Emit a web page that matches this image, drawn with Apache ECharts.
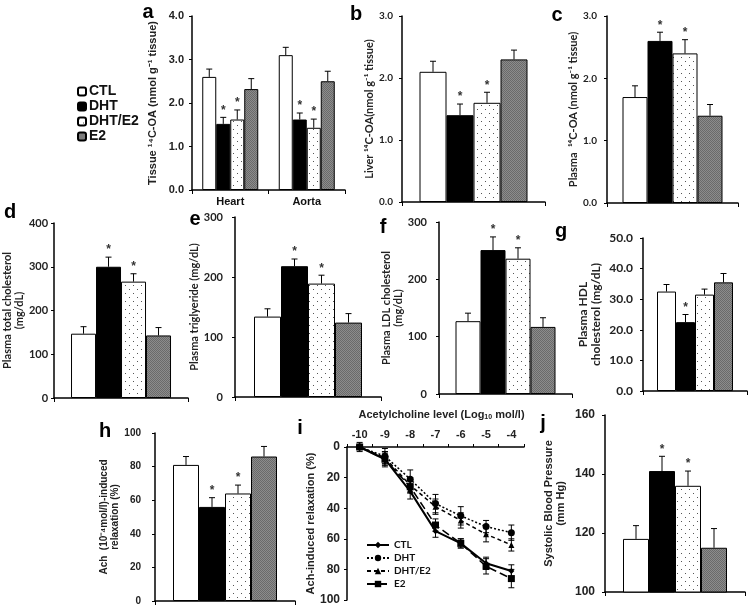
<!DOCTYPE html>
<html><head><meta charset="utf-8">
<script src="https://cdn.jsdelivr.net/npm/echarts@6/dist/echarts.min.js"></script>
<style>html,body{margin:0;padding:0;background:#fff}#c{width:750px;height:608px}</style>
</head><body><div id="c"></div>
<script>
// ---------- data ----------
const groups = ['CTL', 'DHT', 'DHT/E2', 'E2'];
const aCats = ['Heart', 'Aorta'];
// per group: [Heart, Aorta]
const aMean = [[2.6, 3.1], [1.52, 1.62], [1.62, 1.43], [2.32, 2.5]];
const aSem  = [[0.18, 0.18], [0.15, 0.15], [0.22, 0.2], [0.24, 0.23]];
const bMean = [2.1, 1.4, 1.6, 2.3];   const bSem = [0.17, 0.18, 0.17, 0.15];
const cMean = [1.7, 2.6, 2.4, 1.4];   const cSem = [0.18, 0.14, 0.22, 0.18];
const dMean = [147, 300, 266, 143];   const dSem = [16, 22, 18, 18];
const eMean = [134, 218, 189, 124];   const eSem = [13, 12, 14, 15];
const fMean = [127, 251, 236, 117];   const fSem = [14, 23, 19, 16];
const gMean = [32.5, 22.5, 31.5, 35.5]; const gSem = [2.3, 2.5, 1.8, 2.9];
const hMean = [81, 56, 64, 86];       const hSem = [5, 5.5, 5, 6];
const jMean = [118, 141, 136, 115];   const jSem = [4.5, 5, 5, 6.5];
const starsTwo = [0, 1, 1, 0];
const starsOne = [0, 1, 0, 0];
// panel i
const achLevels = ['-10', '-9', '-8', '-7', '-6', '-5', '-4'];
const iCTL   = [0, 8, 29, 55, 63, 76, 81];  const iCTLErr   = [1, 4, 5, 4, 3, 4, 4];
const iDHT   = [0, 6, 21, 37, 45, 52, 56];  const iDHTErr   = [1, 5, 6, 6, 6, 4, 5];
const iDHTE2 = [0, 7, 25, 39, 48, 57, 64];  const iDHTE2Err = [1, 4, 5, 5, 5, 5, 4];
const iE2    = [0, 8, 26, 51, 63, 78, 86];  const iE2Err    = [3, 5, 4, 4, 3, 5, 6];

// ---------- styles ----------
function dotPattern() {
  const c = document.createElement('canvas'); c.width = 8; c.height = 8;
  const g = c.getContext('2d');
  g.fillStyle = '#fff'; g.fillRect(0, 0, 8, 8);
  g.fillStyle = '#555'; g.fillRect(1, 1, 1, 1); g.fillRect(5, 5, 1, 1);
  return c;
}
function grayPattern() {
  const c = document.createElement('canvas'); c.width = 2; c.height = 2;
  const g = c.getContext('2d');
  g.fillStyle = '#8c8c8c'; g.fillRect(0, 0, 2, 2);
  g.fillStyle = '#6a6a6a'; g.fillRect(0, 0, 1, 1); g.fillRect(1, 1, 1, 1);
  return c;
}
const fills = ['#ffffff', '#000000', { image: dotPattern(), repeat: 'repeat' }, { image: grayPattern(), repeat: 'repeat' }];
const ARIAL = '"Liberation Sans", Arial, sans-serif';
const CALI = 'Lato, "Liberation Sans", sans-serif';

// ---------- layout ----------
const P = [
  { key: 'a', grid: [192, 16, 153, 174], cats: aCats, mean: aMean, sem: aSem, stars: [starsTwo, starsTwo], bw: 14,
    min: 0, max: 4, iv: 1, fmt: v => v.toFixed(1), lf: ARIAL, ls: 11, lm: 8,
    name: 'Tissue \u00b9\u2074C-OA (nmol g\u207b\u00b9 tissue)', nf: ARIAL, ns: 11, ng: 33 },
  { key: 'b', grid: [402, 16, 143, 186], mean: bMean, sem: bSem, stars: starsTwo, bw: 27,
    min: 0, max: 3, iv: 1, fmt: v => v.toFixed(1), lf: CALI, ls: 10, lm: 9,
    name: 'Liver \u00b9\u2074C-OA(nmol g\u207b\u00b9 tissue)', nf: CALI, ns: 11, ng: 22 },
  { key: 'c', grid: [607, 16, 131, 187], mean: cMean, sem: cSem, stars: starsTwo, bw: 25,
    min: 0, max: 3, iv: 1, fmt: v => v.toFixed(1), lf: CALI, ls: 10, lm: 10,
    name: 'Plasma  \u00b9\u2074C-OA (nmol g\u207b\u00b9 tissue)', nf: CALI, ns: 11, ng: 28 },
  { key: 'd', grid: [52, 223, 136, 175], mean: dMean, sem: dSem, stars: starsTwo, bw: 25,
    min: 0, max: 400, iv: 100, fmt: v => v, lf: CALI, ls: 11, lm: 6,
    name: 'Plasma total cholesterol\n(mg/dL)', nf: CALI, ns: 11, ng: 24 },
  { key: 'e', grid: [235, 217, 146, 180], mean: eMean, sem: eSem, stars: starsTwo, bw: 27,
    min: 0, max: 300, iv: 100, fmt: v => v, lf: CALI, ls: 11, lm: 12,
    name: 'Plasma triglyeride (mg/dL)', nf: CALI, ns: 11, ng: 29 },
  { key: 'f', grid: [439, 222, 133, 172], mean: fMean, sem: fSem, stars: starsTwo, bw: 25,
    min: 0, max: 300, iv: 100, fmt: v => v, lf: CALI, ls: 11, lm: 12,
    name: 'Plasma LDL cholesterol\n(mg/dL)', nf: CALI, ns: 11, ng: 35 },
  { key: 'g', grid: [643, 238, 104, 153], mean: gMean, sem: gSem, stars: starsOne, bw: 19,
    min: 0, max: 50, iv: 10, fmt: v => v.toFixed(1), lf: CALI, ls: 12, lm: 10,
    name: 'Plasma HDL\ncholesterol (mg/dL)', nf: CALI, ns: 12, ng: 40 },
  { key: 'h', grid: [155, 433, 140, 168], mean: hMean, sem: hSem, stars: starsTwo, bw: 26,
    min: 0, max: 100, iv: 20, fmt: v => v, lf: ARIAL, ls: 10, lm: 14,
    name: 'Ach  (10\u207b\u2074mol/l)-induced\nrelaxation (%)', nf: ARIAL, ns: 10, ng: 27 },
  { key: 'j', grid: [605, 415, 140, 177], mean: jMean, sem: jSem, stars: starsTwo, bw: 26,
    min: 100, max: 160, iv: 20, fmt: v => v, lf: ARIAL, ls: 12, lm: 10,
    name: 'Systolic Blood Pressure\n(mm Hg)', nf: ARIAL, ns: 11, ng: 38 }
];
const I_GRID = [347, 447, 177, 153];

const grids = [], xAxes = [], yAxes = [], series = [];
const axLine = { show: true, onZero: false, lineStyle: { color: '#000', width: 1.5 } };

P.forEach((p, idx) => {
  grids.push({ left: p.grid[0], top: p.grid[1], width: p.grid[2], height: p.grid[3] });
  const cats = p.cats || [''];
  xAxes.push({
    gridIndex: idx, type: 'category', data: cats,
    axisLine: axLine,
    axisTick: { show: true, length: 4, lineStyle: { color: '#000', width: 1 } },
    axisLabel: { show: !!p.cats, fontFamily: ARIAL, fontWeight: 'bold', fontSize: 11, color: '#111', margin: 6 }
  });
  yAxes.push({
    gridIndex: idx, type: 'value', min: p.min, max: p.max, interval: p.iv,
    splitLine: { show: false },
    axisLine: axLine,
    axisTick: { show: true, length: 3, lineStyle: { color: '#000', width: 1 } },
    axisLabel: { formatter: p.fmt, fontFamily: p.lf, fontWeight: 'bold', fontSize: p.ls, color: '#222', margin: p.lm },
    name: p.name, nameLocation: 'middle', nameRotate: 90, nameGap: p.ng,
    nameTextStyle: { fontFamily: p.nf, fontWeight: 'bold', fontSize: p.ns, color: '#222', lineHeight: p.ns + 1 }
  });
  const multi = !!p.cats;
  for (let k = 0; k < 4; k++) {
    series.push({
      type: 'bar', name: groups[k], xAxisIndex: idx, yAxisIndex: idx,
      data: multi ? p.mean[k] : [p.mean[k]],
      barWidth: p.bw, barGap: '0%', silent: true,
      itemStyle: { color: fills[k], borderColor: '#000', borderWidth: 1 }
    });
  }
  // error bars + asterisks
  const rows = [];
  cats.forEach((c, ci) => {
    for (let k = 0; k < 4; k++) {
      const m = multi ? p.mean[k][ci] : p.mean[k];
      const s = multi ? p.sem[k][ci] : p.sem[k];
      const st = multi ? p.stars[ci][k] : p.stars[k];
      rows.push([ci, k, m, s, st]);
    }
  });
  const bw = p.bw;
  series.push({
    type: 'custom', xAxisIndex: idx, yAxisIndex: idx, silent: true, z: 5,
    data: rows, encode: { x: 0, y: 2 },
    renderItem: (params, api) => {
      const ci = api.value(0), k = api.value(1), m = api.value(2), s = api.value(3), st = api.value(4);
      const b = api.coord([ci, m]), t = api.coord([ci, m + s]);
      const x = b[0] + (k - 1.5) * bw;
      const ch = [
        { type: 'line', shape: { x1: x, y1: b[1], x2: x, y2: t[1] }, style: { stroke: '#000', lineWidth: 1 } },
        { type: 'line', shape: { x1: x - 3, y1: t[1], x2: x + 3, y2: t[1] }, style: { stroke: '#000', lineWidth: 1 } }
      ];
      if (st) ch.push({ type: 'text', style: { text: '*', x: x, y: t[1] - 7, align: 'center', verticalAlign: 'middle',
        font: 'bold 12px "Liberation Sans", Arial', fill: '#333' } });
      return { type: 'group', children: ch };
    }
  });
});

// ---------- panel i ----------
const iIdx = P.length;
grids.push({ left: I_GRID[0], top: I_GRID[1], width: I_GRID[2], height: I_GRID[3] });
xAxes.push({
  gridIndex: iIdx, type: 'category', position: 'top', data: achLevels, boundaryGap: true,
  axisLine: axLine,
  axisTick: { show: true, length: 3, lineStyle: { color: '#000' } },
  axisLabel: { fontFamily: ARIAL, fontWeight: 'bold', fontSize: 11, color: '#222', margin: 7 },
  name: 'Acetylcholine level (Log{s|10} mol/l)', nameLocation: 'middle', nameGap: 26,
  nameTextStyle: { fontFamily: ARIAL, fontWeight: 'bold', fontSize: 11, color: '#222', padding: [0, 0, 0, 12],
    rich: { s: { fontFamily: ARIAL, fontWeight: 'bold', fontSize: 7, color: '#222', padding: [6, 0, 0, 0] } } }
});
yAxes.push({
  gridIndex: iIdx, type: 'value', min: 0, max: 100, interval: 20, inverse: true,
  splitLine: { show: false }, axisLine: axLine,
  axisTick: { show: true, length: 3, lineStyle: { color: '#000' } },
  axisLabel: { fontFamily: ARIAL, fontWeight: 'bold', fontSize: 12, color: '#222', margin: 7 },
  name: 'Ach-induced relaxation (%)', nameLocation: 'middle', nameRotate: 90, nameGap: 31,
  nameTextStyle: { fontFamily: ARIAL, fontWeight: 'bold', fontSize: 11, color: '#222' }
});
const iSeries = [
  { n: 'i-CTL', d: iCTL, e: iCTLErr, sym: 'diamond', ss: 6, lt: 'solid', lw: 2 },
  { n: 'i-DHT', d: iDHT, e: iDHTErr, sym: 'circle', ss: 7, lt: [2, 2], lw: 1.5 },
  { n: 'i-DHT/E2', d: iDHTE2, e: iDHTE2Err, sym: 'triangle', ss: 6, lt: [4, 3], lw: 1.5 },
  { n: 'i-E2', d: iE2, e: iE2Err, sym: 'rect', ss: 7, lt: [8, 4], lw: 1.5 }
];
iSeries.forEach(s => {
  series.push({
    type: 'line', name: s.n, xAxisIndex: iIdx, yAxisIndex: iIdx, data: s.d,
    symbol: s.sym, symbolSize: s.ss, showSymbol: true, silent: true,
    lineStyle: { color: '#000', width: s.lw, type: s.lt },
    itemStyle: { color: '#000' }
  });
  series.push({
    type: 'custom', xAxisIndex: iIdx, yAxisIndex: iIdx, silent: true, z: 4,
    data: s.d.map((v, i) => [i, v, s.e[i]]), encode: { x: 0, y: 1 },
    renderItem: (params, api) => {
      const i = api.value(0), v = api.value(1), e = api.value(2);
      const a = api.coord([i, v - e]), b = api.coord([i, v + e]);
      return { type: 'group', children: [
        { type: 'line', shape: { x1: a[0], y1: a[1], x2: b[0], y2: b[1] }, style: { stroke: '#000', lineWidth: 1 } },
        { type: 'line', shape: { x1: a[0] - 3, y1: a[1], x2: a[0] + 3, y2: a[1] }, style: { stroke: '#000', lineWidth: 1 } },
        { type: 'line', shape: { x1: b[0] - 3, y1: b[1], x2: b[0] + 3, y2: b[1] }, style: { stroke: '#000', lineWidth: 1 } }
      ] };
    }
  });
});

// ---------- panel letters ----------
const letters = [['a', 148, 12], ['b', 356, 14], ['c', 557, 15], ['d', 10, 212], ['e', 195, 219],
  ['f', 383, 227], ['g', 561, 231], ['h', 105, 431], ['i', 300, 428], ['j', 543, 423]];

const chart = echarts.init(document.getElementById('c'), null, { renderer: 'canvas' });
chart.setOption({
  backgroundColor: '#fff',
  animation: false,
  grid: grids, xAxis: xAxes, yAxis: yAxes, series: series,
  legend: [
    { data: groups, orient: 'vertical', left: 72, top: 79, itemWidth: 8, itemHeight: 8, itemGap: 0,
      selectedMode: false,
      textStyle: { fontFamily: ARIAL, fontWeight: 'bold', fontSize: 14, color: '#111', lineHeight: 15, padding: [0, 0, 0, -2] } },
    { data: ['i-CTL', 'i-DHT', 'i-DHT/E2', 'i-E2'], formatter: n => n.slice(2), orient: 'vertical',
      left: 361, top: 535, itemWidth: 22, itemHeight: 8, itemGap: 3, selectedMode: false,
      textStyle: { fontFamily: CALI, fontWeight: 'bold', fontSize: 10, color: '#111' } }
  ],
  graphic: letters.map(l => ({ type: 'text', x: l[1], y: l[2], silent: true,
    style: { text: l[0], x: 0, y: 0, align: 'center', verticalAlign: 'middle',
      font: 'bold 20px "Liberation Sans", Arial, sans-serif', fill: '#000' } }))
});
</script></body></html>
